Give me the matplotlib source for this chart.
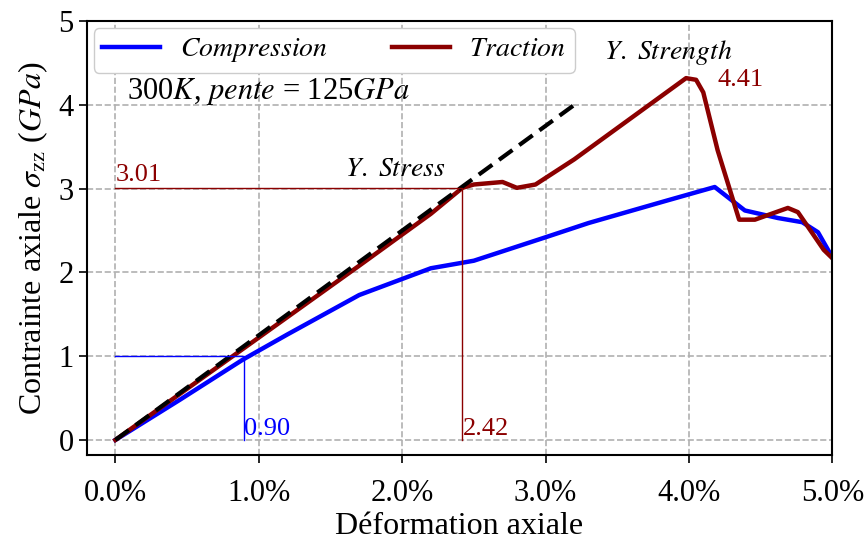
import matplotlib
matplotlib.use("Agg")
import matplotlib.pyplot as plt
from matplotlib.ticker import PercentFormatter

plt.rcParams["font.family"] = ["Liberation Serif", "DejaVu Serif"]
plt.rcParams["mathtext.fontset"] = "stix"

# déformation en %, contrainte en GPa
eps_compression = [0.0, 0.45, 0.89, 1.2, 1.7, 2.2, 2.5, 2.75, 3.0, 3.3, 3.85, 4.18,
                   4.39, 4.62, 4.79, 4.9, 5.0]
sig_compression = [0.0, 0.48, 0.96, 1.26, 1.73, 2.05, 2.14, 2.28, 2.42, 2.59, 2.86, 3.02,
                   2.74, 2.65, 2.6, 2.48, 2.18]

eps_traction = [0.0, 0.9, 1.7, 2.2, 2.42, 2.5, 2.7, 2.8, 2.93, 3.2, 3.98, 4.05, 4.1,
                4.2, 4.35, 4.46, 4.69, 4.76, 4.94, 5.0]
sig_traction = [0.0, 1.1, 2.08, 2.7, 3.01, 3.05, 3.08, 3.01, 3.05, 3.35, 4.32, 4.3, 4.15,
                3.46, 2.63, 2.63, 2.77, 2.72, 2.27, 2.17]

eps_pente = [0.0, 3.2]
sig_pente = [0.0, 4.0]

eps_yield_c, sig_yield_c = 0.90, 1.0
eps_yield_t, sig_yield_t = 2.42, 3.01
sig_max_t = 4.41

fig, ax = plt.subplots(figsize=(8.67, 5.43), dpi=100)
fig.subplots_adjust(left=0.1, right=0.96, top=0.961, bottom=0.162)

ax.plot(eps_compression, sig_compression, color="blue", lw=3.2, label="$Compression$")
ax.plot(eps_traction, sig_traction, color="#8b0000", lw=3.2, label="$Traction$")
ax.plot(eps_pente, sig_pente, color="black", lw=3, ls=(0, (4, 2)))

# repères de limite élastique
ax.plot([0, eps_yield_c, eps_yield_c], [sig_yield_c, sig_yield_c, 0], color="blue", lw=1)
ax.plot([0, eps_yield_t, eps_yield_t], [sig_yield_t, sig_yield_t, 0], color="#8b0000", lw=1)

ax.text(eps_yield_c, 0.0, f"{eps_yield_c:.2f}", color="blue", fontsize=19, va="bottom", ha="left")
ax.text(eps_yield_t, 0.0, f"{eps_yield_t:.2f}", color="#8b0000", fontsize=19, va="bottom", ha="left")
ax.text(0.0, sig_yield_t + 0.02, f"{sig_yield_t:.2f}", color="#8b0000", fontsize=19, va="bottom", ha="left")
ax.text(1.6, 3.08, r"$Y.\ Stress$", fontsize=20, va="bottom", ha="left")
ax.text(3.41, 4.45, r"$Y.\ Strength$", fontsize=20, va="bottom", ha="left")
ax.text(4.2, 4.17, f"{sig_max_t:.2f}", color="#8b0000", fontsize=19, va="bottom", ha="left")
ax.text(0.08, 3.98, r"300$K$, $pente$ = 125$GPa$", fontsize=22, va="bottom", ha="left")

ax.set_xlim(-0.2, 5.0)
ax.set_ylim(-0.18, 5.0)
ax.set_xticks([0, 1, 2, 3, 4, 5])
ax.set_yticks([0, 1, 2, 3, 4, 5])
ax.xaxis.set_major_formatter(PercentFormatter(xmax=100, decimals=1))
ax.tick_params(labelsize=22, length=6, width=1.2)
ax.tick_params(axis="x", pad=11)

ax.set_xlabel("Déformation axiale", fontsize=23, labelpad=3)
ax.set_ylabel(r"Contrainte axiale $\sigma_{\mathrm{zz}}$ ($GPa$)", fontsize=23, labelpad=6)

ax.grid(True, color="#b0b0b0", ls="--", lw=1.2)
for sp in ax.spines.values():
    sp.set_linewidth(1.5)

ax.legend(loc="upper left", ncol=2, fontsize=20, handlelength=2.1, handletextpad=0.7,
          columnspacing=2.3, borderaxespad=0.25, borderpad=0.3, framealpha=1.0,
          edgecolor="#cccccc")

fig.savefig("out.png", dpi=100)
